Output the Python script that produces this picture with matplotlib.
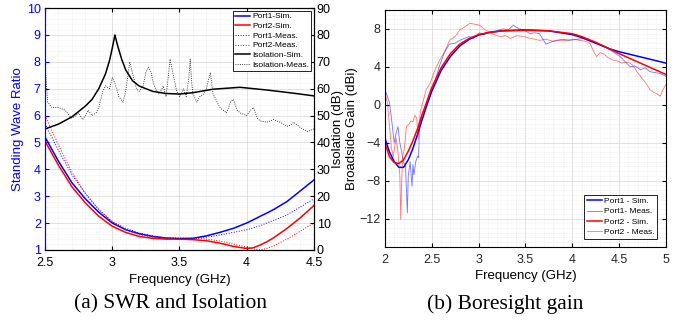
import numpy as np
import matplotlib
matplotlib.use("Agg")
import matplotlib.pyplot as plt
from matplotlib.ticker import MultipleLocator, FormatStrFormatter

plt.rcParams["font.family"] = ["Liberation Sans", "DejaVu Sans"]

# -----------------------------
# (a) SWR and isolation data
# -----------------------------
f_swr = [2.5, 2.6, 2.7, 2.8, 2.9, 3.0, 3.1, 3.2, 3.3, 3.4, 3.5, 3.6, 3.7, 3.8, 3.9, 4.0, 4.05, 4.1, 4.15, 4.2, 4.3, 4.4, 4.5]
swr_p1_sim = [5.2, 4.3, 3.5, 2.9, 2.4, 2.0, 1.75, 1.6, 1.5, 1.44, 1.42, 1.43, 1.52, 1.65, 1.8, 2.0, 2.12, 2.25, 2.37, 2.5, 2.8, 3.2, 3.6]
swr_p2_sim = [5.05, 4.15, 3.35, 2.75, 2.25, 1.88, 1.65, 1.5, 1.43, 1.4, 1.4, 1.38, 1.34, 1.25, 1.13, 1.05, 1.08, 1.18, 1.3, 1.45, 1.8, 2.2, 2.65]
swr_p1_meas = [5.7, 4.7, 3.8, 3.1, 2.5, 2.05, 1.8, 1.63, 1.52, 1.45, 1.42, 1.42, 1.47, 1.55, 1.65, 1.75, 1.82, 1.9, 2.0, 2.1, 2.3, 2.6, 2.9]
swr_p2_meas = [6.0, 4.9, 3.9, 3.1, 2.5, 2.05, 1.75, 1.57, 1.48, 1.45, 1.45, 1.44, 1.4, 1.33, 1.22, 1.1, 1.03, 1.0, 1.05, 1.15, 1.4, 1.7, 2.0]

f_iso_sim = [2.5, 2.6, 2.7, 2.8, 2.85, 2.9, 2.95, 2.98, 3.0, 3.02, 3.04, 3.07, 3.1, 3.15, 3.2, 3.3, 3.4, 3.5, 3.6, 3.75, 3.95, 4.15, 4.35, 4.5]
iso_sim = [45, 46.8, 49.5, 53.5, 56, 60, 65.5, 70.5, 75, 80, 76, 71, 67, 63, 61, 59, 58.2, 58, 58.5, 59.8, 60.5, 59.5, 58.3, 57.3]

f_iso_meas = [2.5, 2.51, 2.52, 2.55, 2.6, 2.65, 2.68, 2.7, 2.73, 2.75, 2.78, 2.8, 2.82, 2.85, 2.88,
              2.9, 2.93, 2.95, 2.98, 3.0, 3.02, 3.05, 3.08, 3.1, 3.12, 3.13, 3.15, 3.18, 3.2, 3.23, 3.25,
              3.27, 3.29, 3.3, 3.33, 3.35, 3.38, 3.4, 3.42, 3.43, 3.45, 3.48, 3.5, 3.53, 3.55, 3.57, 3.58, 3.59, 3.6, 3.63,
              3.65, 3.68, 3.7, 3.72, 3.73, 3.75, 3.8, 3.85, 3.88, 3.9, 3.93, 3.95, 4.0, 4.03, 4.05, 4.08,
              4.1, 4.15, 4.2, 4.25, 4.3, 4.33, 4.35, 4.4, 4.45, 4.5]
iso_meas = [70, 62, 55, 53, 53, 52, 50, 49, 50, 51, 48.5, 50, 52, 50, 51,
            53, 59, 61, 60, 64, 62, 57, 55, 59, 66, 70, 66, 60, 59, 61, 66,
            68, 66, 63, 59, 58, 61, 57, 66, 71, 66, 59, 57, 60, 57, 64, 71, 63, 58, 55,
            57, 58, 60, 64, 66, 58, 53, 51, 55, 56, 52, 51, 50, 52, 53, 49,
            48, 47.5, 48.5, 47.5, 46, 46.5, 47.5, 45.5, 44, 45]

# -----------------------------
# (b) Boresight gain data
# -----------------------------
f_gain_sim = [2.0, 2.05, 2.1, 2.15, 2.2, 2.25, 2.3, 2.35, 2.4, 2.45, 2.5, 2.6, 2.7, 2.8, 2.9, 3.0, 3.1, 3.25,
              3.5, 3.75, 4.0, 4.1, 4.25, 4.4, 4.5, 4.75, 5.0]
gain_p1_sim = [-3.5, -5.0, -6.0, -6.6, -6.6, -5.8, -4.6, -3.1, -1.5, 0.0, 1.4, 3.6, 5.1, 6.2, 6.9, 7.35, 7.6, 7.8,
               7.9, 7.8, 7.4, 7.1, 6.5, 5.9, 5.6, 5.0, 4.4]
gain_p2_sim = [-4.0, -5.5, -6.1, -6.2, -5.8, -4.9, -3.8, -2.5, -1.0, 0.4, 1.8, 3.9, 5.4, 6.4, 7.0, 7.4, 7.6, 7.8,
               7.85, 7.8, 7.5, 7.2, 6.6, 5.9, 5.4, 4.3, 3.2]

f_gain_p1_meas = [2.0, 2.03, 2.05, 2.07, 2.1, 2.12, 2.14, 2.16, 2.18, 2.2, 2.22, 2.24, 2.25, 2.27, 2.29,
                  2.3, 2.31, 2.33, 2.35, 2.36, 2.37, 2.39, 2.43, 2.46, 2.5, 2.55, 2.59, 2.64, 2.69, 2.75,
                  2.8, 2.85, 2.9, 2.95, 3.01, 3.06, 3.12, 3.19, 3.26, 3.32, 3.37, 3.4, 3.44, 3.5, 3.55,
                  3.6, 3.65, 3.69, 3.72, 3.77, 3.83, 3.9, 3.97, 4.05, 4.12, 4.19, 4.26, 4.33, 4.4, 4.45,
                  4.51, 4.56, 4.62, 4.67, 4.73, 4.78, 4.83, 4.88, 4.94, 5.0]
gain_p1_meas = [1.6, 0.8, 0.2, -1.4, -4.0, -3.0, -2.3, -4.0, -5.0, -6.1, -6.3, -11.4, -7.5, -6.0, -8.6,
                -6.3, -7.4, -6.0, -5.4, -5.6, -2.3, -1.2, -0.2, 0.3, 1.5, 3.0, 4.3, 5.6, 6.4, 6.5,
                6.8, 7.0, 7.2, 7.0, 7.6, 7.4, 7.7, 7.8, 8.0, 7.9, 8.4, 8.2, 8.0, 7.8, 7.5,
                7.6, 7.5, 6.9, 6.4, 6.6, 6.8, 6.9, 6.8, 6.9, 7.0, 6.8, 6.5, 6.2, 5.8, 5.5,
                5.1, 4.6, 4.0, 4.1, 3.7, 3.9, 3.5, 3.4, 3.3, 3.0]

f_gain_p2_meas = [2.0, 2.03, 2.05, 2.07, 2.09, 2.11, 2.12, 2.14, 2.16, 2.17, 2.18, 2.19, 2.21, 2.23, 2.26,
                  2.28, 2.3, 2.32, 2.34, 2.355, 2.365, 2.38, 2.41, 2.44, 2.48, 2.51, 2.55, 2.59, 2.64, 2.69,
                  2.75, 2.8, 2.85, 2.91, 2.96, 3.01, 3.06, 3.12, 3.17, 3.23, 3.29, 3.34, 3.41, 3.48, 3.56,
                  3.65, 3.72, 3.8, 3.87, 3.94, 4.01, 4.08, 4.14, 4.19, 4.23, 4.26, 4.3, 4.33, 4.38, 4.44,
                  4.49, 4.53, 4.58, 4.62, 4.66, 4.69, 4.73, 4.76, 4.8, 4.83, 4.87, 4.9, 4.94, 4.97, 5.0]
gain_p2_meas = [1.4, 0.0, -2.3, -4.5, -5.5, -4.1, -3.5, -5.0, -7.5, -12.1, -8.0, -5.5, -4.5, -2.3, -2.0,
                -1.7, -1.8, -1.1, -1.4, -3.6, -2.0, -0.7, 0.4, 1.6, 2.2, 3.0, 4.0, 4.8, 5.6, 6.8,
                7.2, 7.9, 8.2, 8.6, 8.5, 8.4, 8.0, 7.6, 7.4, 7.2, 7.3, 7.0, 7.3, 7.2, 7.0,
                6.8, 6.9, 6.7, 6.8, 6.8, 6.9, 6.8, 6.7, 6.5, 5.6, 5.1, 5.5, 5.4, 5.0, 4.7,
                4.6, 4.4, 4.5, 4.4, 4.0, 3.5, 3.0, 2.6, 2.1, 1.6, 1.3, 1.2, 0.9, 1.6, 2.1]

# -----------------------------
# Figure
# -----------------------------
fig = plt.figure(figsize=(6.86, 3.22), dpi=100)
tick_fs = 9
lab_fs = 9.5
grid_major = dict(color="#d6d6d6", linewidth=0.5)
grid_minor = dict(color="#e2e2e2", linewidth=0.45, linestyle=":")
fmt = FormatStrFormatter("%g")

# (a) SWR + isolation
ax1 = fig.add_axes([0.0656, 0.224, 0.392, 0.751])
ax1.plot(f_swr, swr_p1_sim, color="blue", lw=1.1, label="Port1-Sim.")
ax1.plot(f_swr, swr_p2_sim, color="red", lw=1.1, label="Port2-Sim.")
ax1.plot(f_swr, swr_p1_meas, color="blue", lw=0.7, ls=":", label="Port1-Meas.")
ax1.plot(f_swr, swr_p2_meas, color="red", lw=0.7, ls=":", label="Port2-Meas.")
ax1.set_xlim(2.5, 4.5)
ax1.set_ylim(1, 10)
ax1.xaxis.set_major_locator(MultipleLocator(0.5))
ax1.xaxis.set_minor_locator(MultipleLocator(0.1))
ax1.xaxis.set_major_formatter(fmt)
ax1.yaxis.set_major_locator(MultipleLocator(1))
ax1.yaxis.set_minor_locator(MultipleLocator(0.2))
ax1.grid(True, which="major", **grid_major)
ax1.grid(True, which="minor", **grid_minor)
ax1.set_axisbelow(True)
ax1.spines["left"].set_color("blue")
ax1.tick_params(axis="y", colors="blue", labelsize=tick_fs, direction="in", length=3, pad=3)
ax1.tick_params(axis="x", labelsize=tick_fs, direction="in", length=3, top=True, pad=5)
ax1.tick_params(which="minor", length=0)
ax1.set_ylabel("Standing Wave Ratio", color="blue", fontsize=lab_fs, labelpad=2)
ax1.set_xlabel("Frequency (GHz)", fontsize=lab_fs, labelpad=4)

ax1r = ax1.twinx()
ax1r.plot(f_iso_sim, iso_sim, color="black", lw=1.1, label="Isolation-Sim.")
ax1r.plot(f_iso_meas, iso_meas, color="black", lw=0.6, ls=":", label="Isolation-Meas.")
ax1r.set_ylim(0, 90)
ax1r.yaxis.set_major_locator(MultipleLocator(10))
ax1r.spines["left"].set_color("blue")
ax1r.tick_params(axis="y", labelsize=tick_fs, direction="in", length=3, pad=2)
ax1r.set_ylabel("Isolation (dB)", fontsize=lab_fs, labelpad=1)

h1, l1 = ax1.get_legend_handles_labels()
h2, l2 = ax1r.get_legend_handles_labels()
leg = ax1r.legend(h1 + h2, l1 + l2, loc="upper right", fontsize=6, handlelength=1.8,
                  handletextpad=0.3, borderpad=0.25, labelspacing=0.22,
                  fancybox=False, framealpha=1, edgecolor="black", borderaxespad=0.3)
leg.get_frame().set_linewidth(0.6)

# (b) Boresight gain
ax2 = fig.add_axes([0.561, 0.233, 0.4096, 0.736])
ax2.plot(f_gain_sim, gain_p1_sim, color="blue", lw=1.1, label="Port1 - Sim.")
ax2.plot(f_gain_p1_meas, gain_p1_meas, color="blue", lw=0.6, alpha=0.55, label="Port1- Meas.")
ax2.plot(f_gain_sim, gain_p2_sim, color="red", lw=1.1, label="Port2 - Sim.")
ax2.plot(f_gain_p2_meas, gain_p2_meas, color="red", lw=0.6, alpha=0.55, label="Port2 - Meas.")
ax2.set_xlim(2, 5)
ax2.set_ylim(-15, 10)
ax2.xaxis.set_major_locator(MultipleLocator(0.5))
ax2.xaxis.set_minor_locator(MultipleLocator(0.1))
ax2.xaxis.set_major_formatter(fmt)
ax2.yaxis.set_major_locator(MultipleLocator(4))
ax2.yaxis.set_minor_locator(MultipleLocator(0.5))
ax2.grid(True, which="major", **grid_major)
ax2.grid(True, which="minor", **grid_minor)
ax2.set_axisbelow(True)
ax2.tick_params(labelsize=tick_fs, direction="in", length=3, top=True, right=True,
                labelcolor="#262626")
ax2.tick_params(axis="x", pad=5)
ax2.tick_params(axis="y", pad=3)
ax2.tick_params(which="minor", length=0)
ax2.set_ylabel("Broadside Gain (dBi)", fontsize=lab_fs, labelpad=1)
ax2.set_xlabel("Frequency (GHz)", fontsize=lab_fs, labelpad=3)
leg2 = ax2.legend(loc="lower right", fontsize=6, handlelength=1.8, handletextpad=0.3,
                  borderpad=0.3, labelspacing=0.3, fancybox=False, framealpha=1,
                  edgecolor="black", borderaxespad=1.0)
leg2.get_frame().set_linewidth(0.6)

# captions
fig.text(0.249, 0.057, "(a) SWR and Isolation", fontsize=15.5, ha="center", va="center",
         family=["Liberation Serif", "DejaVu Serif"])
fig.text(0.736, 0.057, "(b) Boresight gain", fontsize=15.5, ha="center", va="center",
         family=["Liberation Serif", "DejaVu Serif"])

fig.savefig("out.png", dpi=100)
